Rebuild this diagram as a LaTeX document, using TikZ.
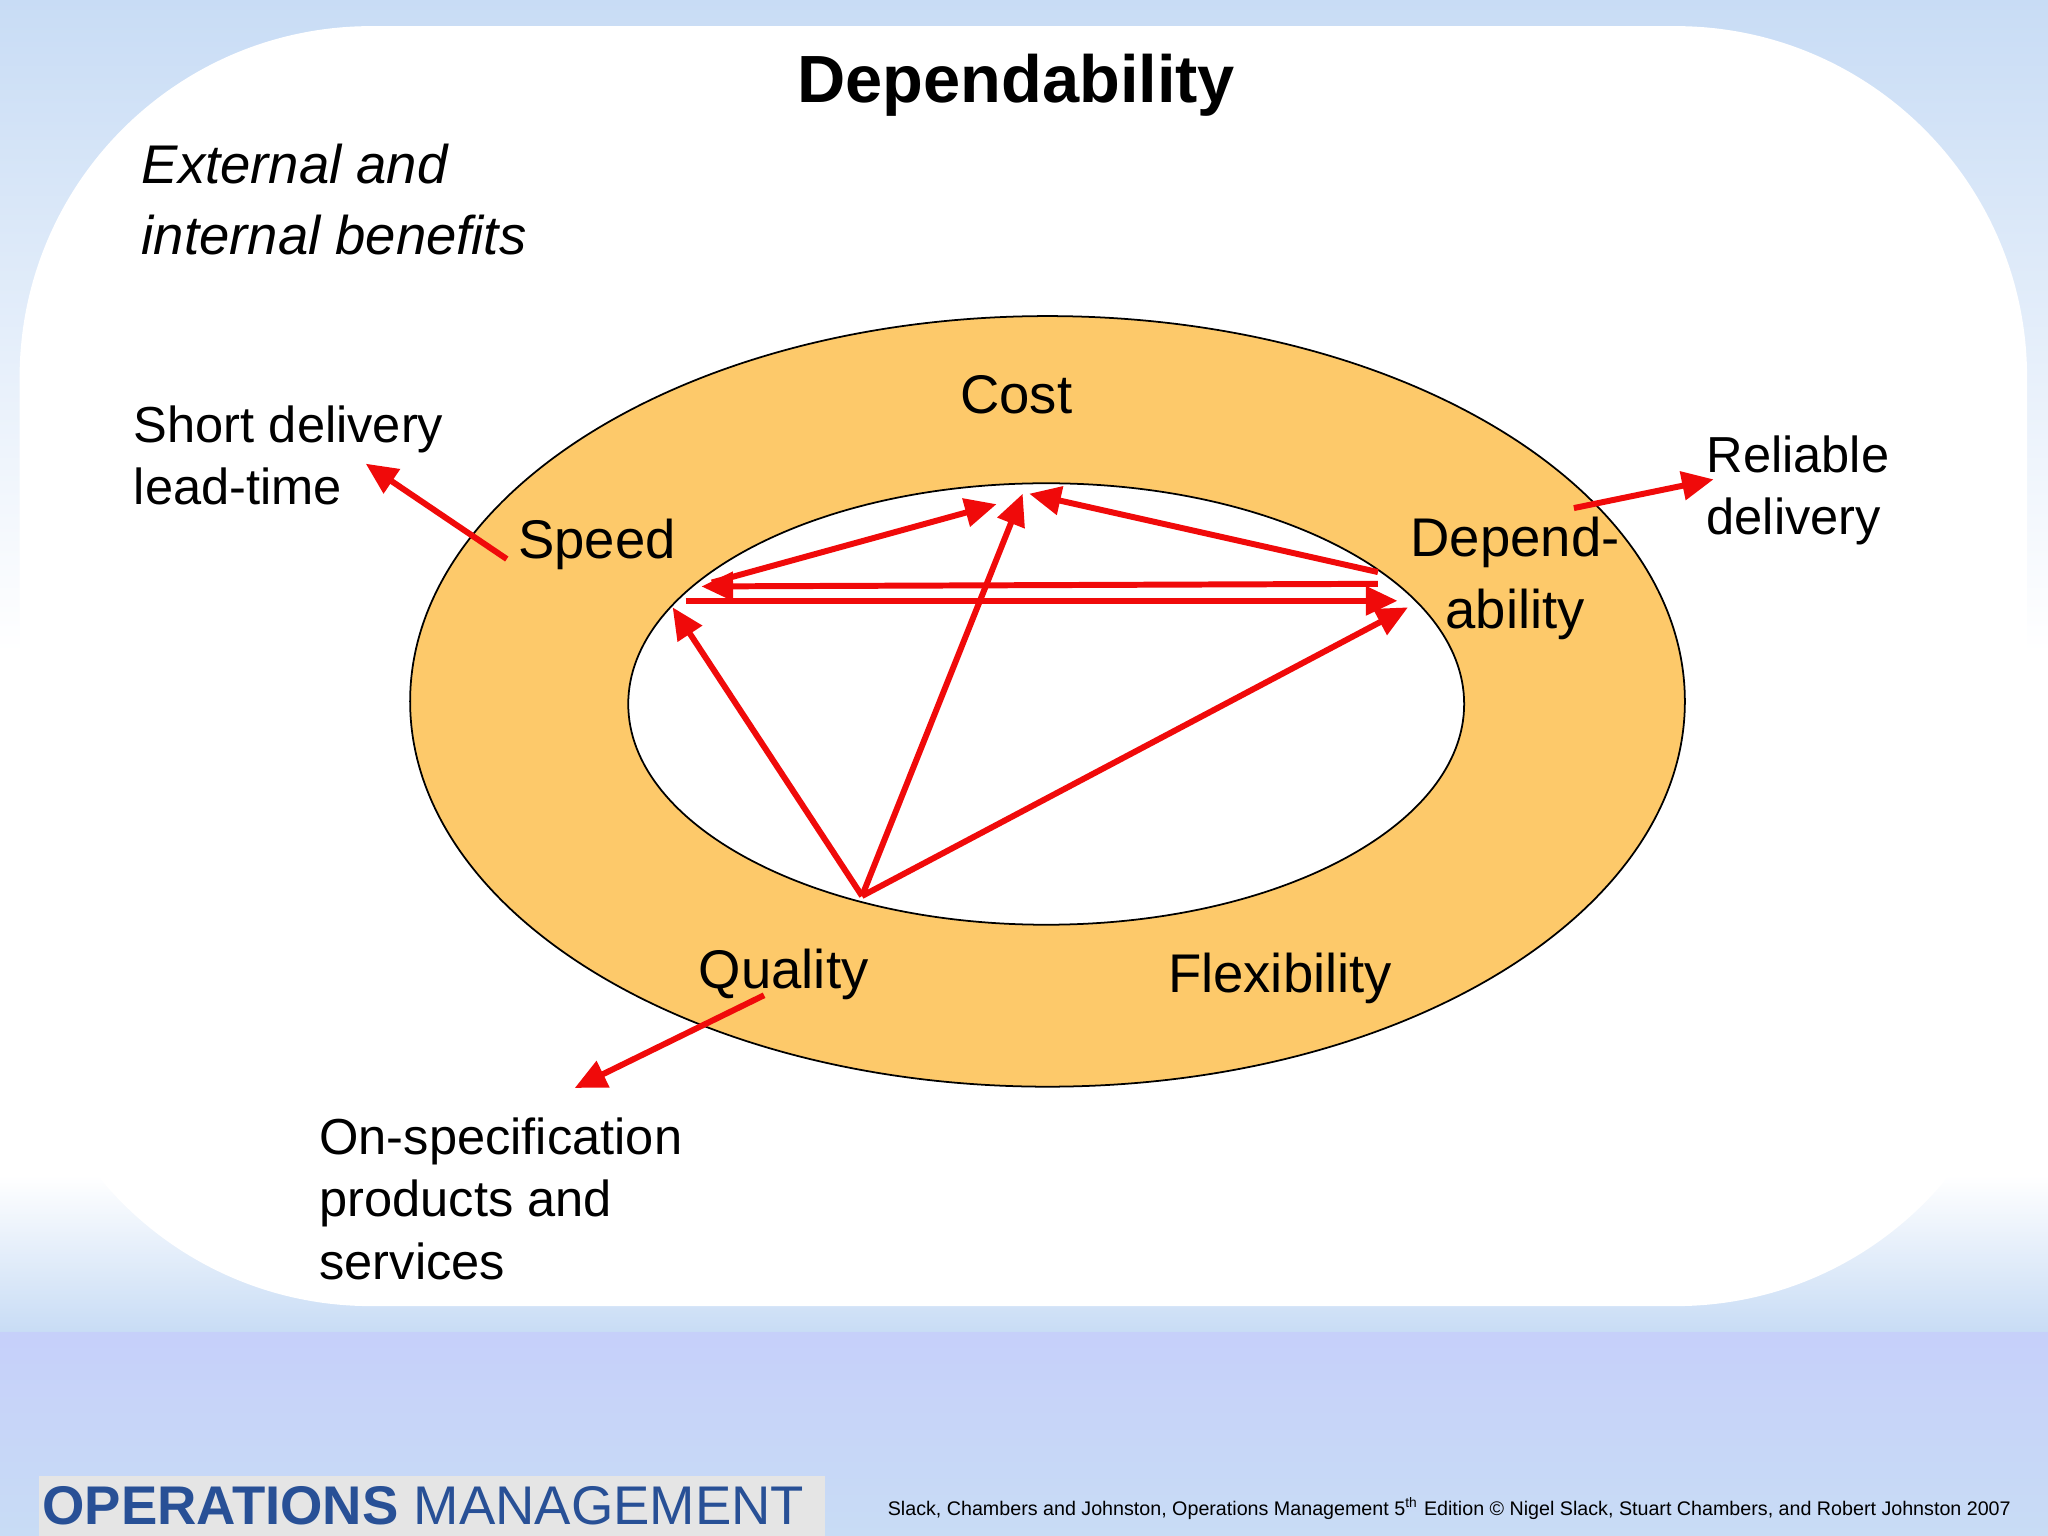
\documentclass[tikz,border=0pt]{standalone}
\usepackage{fontspec}
\setmainfont{Liberation Sans}
\usetikzlibrary{arrows.meta}
\definecolor{ringc}{RGB}{253,201,106}
\definecolor{arr}{RGB}{240,10,10}
\definecolor{bgblue}{RGB}{200,220,245}
\definecolor{opblue}{RGB}{40,80,150}
\begin{document}
\begin{tikzpicture}[x=0.013061cm,y=-0.013061cm,
  lab/.style={font=\fontsize{15.5}{18}\selectfont,inner sep=0},
  side/.style={font=\fontsize{14.4}{17.8}\selectfont,inner sep=0,align=left},
  rarr/.style={draw=arr,line width=1.7pt,-{Triangle[length=9pt,width=8pt]}}]
\useasboundingbox (0,0) rectangle (1568,1176);
\shade[top color=bgblue,bottom color=white] (0,0) rectangle (1568,500);
\fill[white] (0,500) rectangle (1568,900);
\shade[top color=white,bottom color=bgblue] (0,900) rectangle (1568,1020);
\shade[top color=bgblue!80!blue!60,bottom color=bgblue] (0,1020) rectangle (1568,1176);
\fill[white,rounded corners=100] (15,20) rectangle (1552,1000);
\fill[gray!20] (30,1130) rectangle (632,1176);
\node[anchor=west,inner sep=0,text=opblue] (op) at (32,1153) {\fontsize{15.5}{18}\selectfont\textbf{OPERATIONS} MANAGEMENT};
\node[anchor=east,inner sep=0] (foot) at (1540,1155) {\fontsize{5.6}{7}\selectfont Slack, Chambers and Johnston, Operations Management 5\textsuperscript{th} Edition © Nigel Slack, Stuart Chambers, and Robert Johnston 2007};
\node[inner sep=0] (title) at (778,65) {\fontsize{19}{23}\selectfont\bfseries Dependability};
\node[side,anchor=north west,font=\fontsize{15.5}{20}\selectfont\itshape] (ext) at (108,110) {External and\\internal benefits};
\filldraw[fill=ringc,draw=black,line width=0.5pt] (802,537) ellipse [x radius=488,y radius=295];
\filldraw[fill=white,draw=black,line width=0.5pt] (801,539) ellipse [x radius=320,y radius=169];
\node[lab] (cost) at (778,302) {Cost};
\node[lab] (speed) at (457,417) {Speed};
\node[lab,align=center,font=\fontsize{15.5}{20.5}\selectfont] (dep) at (1160,443) {Depend-\\ability};
\node[lab] (qual) at (600,746) {Quality};
\node[lab] (flex) at (980,749) {Flexibility};
\node[side,anchor=north west] (sdl) at (102,310) {Short delivery\\lead-time};
\node[side,anchor=north west] (rel) at (1306,333) {Reliable\\delivery};
\node[side,anchor=north west] (ons) at (244,855) {On-specification\\products and\\services};
\coordinate (s1) at (388,428); \coordinate (s2) at (280,355);
\coordinate (d1) at (1205,389); \coordinate (d2) at (1312,367);
\coordinate (q1) at (585,762); \coordinate (q2) at (440,833);
\coordinate (Q) at (660,686);
\coordinate (sp) at (515,465); \coordinate (ct) at (783,378); \coordinate (dp) at (1078,465);
\coordinate (a1) at (1055,447); \coordinate (a2) at (537,449);
\coordinate (b1) at (525,460); \coordinate (b2) at (1070,460);
\coordinate (c1) at (545,446); \coordinate (c2) at (763,386);
\coordinate (e1) at (1055,438); \coordinate (e2) at (788,378);
\draw[rarr] (s1) -- (s2);
\draw[rarr] (d1) -- (d2);
\draw[rarr] (q1) -- (q2);
\draw[rarr] (Q) -- (sp);
\draw[rarr] (Q) -- (ct);
\draw[rarr] (Q) -- (dp);
\draw[rarr] (a1) -- (a2);
\draw[rarr] (b1) -- (b2);
\draw[rarr] (c1) -- (c2);
\draw[rarr] (e1) -- (e2);
\end{tikzpicture}
\end{document}
